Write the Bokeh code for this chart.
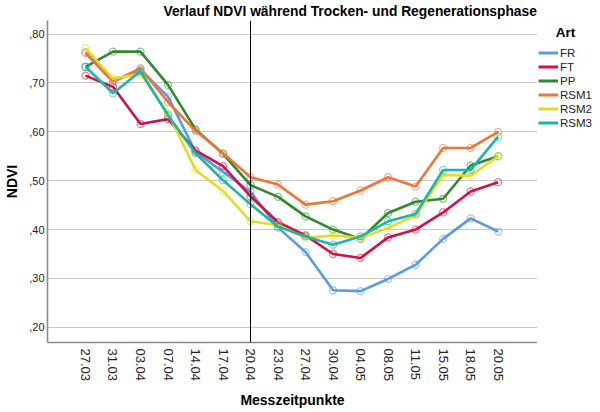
import math
from bokeh.plotting import figure
from bokeh.layouts import row
from bokeh.models import Range1d, FixedTicker, Span, Legend, LegendItem, Label
from bokeh.embed import file_html
from bokeh.resources import INLINE

# ---- data ----
dates = ["27.03", "31.03", "03.04", "07.04", "14.04", "17.04", "20.04", "23.04",
         "27.04", "30.04", "04.05", "08.05", "11.05", "15.05", "18.05", "20.05"]
FR = [0.763, 0.703, 0.727, 0.672, 0.559, 0.518, 0.477, 0.404, 0.354, 0.276, 0.274, 0.299, 0.328, 0.381, 0.423, 0.396]
FT = [0.715, 0.692, 0.616, 0.626, 0.562, 0.530, 0.468, 0.415, 0.388, 0.350, 0.342, 0.384, 0.400, 0.435, 0.478, 0.497]
PP = [0.733, 0.764, 0.764, 0.696, 0.605, 0.555, 0.491, 0.467, 0.427, 0.400, 0.381, 0.434, 0.457, 0.463, 0.531, 0.550]
RSM1 = [0.761, 0.702, 0.730, 0.661, 0.602, 0.556, 0.507, 0.492, 0.451, 0.458, 0.480, 0.507, 0.488, 0.567, 0.567, 0.600]
RSM2 = [0.771, 0.709, 0.718, 0.638, 0.522, 0.479, 0.417, 0.409, 0.383, 0.388, 0.383, 0.403, 0.429, 0.512, 0.510, 0.550]
RSM3 = [0.733, 0.679, 0.724, 0.634, 0.556, 0.501, 0.452, 0.406, 0.386, 0.369, 0.386, 0.417, 0.432, 0.522, 0.522, 0.590]

series_names = ["FR", "FT", "PP", "RSM1", "RSM2", "RSM3"]
series_values = [FR, FT, PP, RSM1, RSM2, RSM3]
colors = ["#5b9be0", "#cf1148", "#2f8a2f", "#ef7437", "#e3dc22", "#1db5a8"]

y_ticks = [0.2, 0.3, 0.4, 0.5, 0.6, 0.7, 0.8]
y_tick_labels = [",20", ",30", ",40", ",50", ",60", ",70", ",80"]
split_date = "20.04"

title_text = "Verlauf NDVI während Trocken- und Regenerationsphase"
x_label = "Messzeitpunkte"
y_label = "NDVI"
legend_title = "Art"

FONT = "Liberation Sans"
xs = list(range(len(dates)))

# ---- main plot ----
p = figure(width=537, height=412, output_backend="svg", toolbar_location=None,
           x_range=Range1d(-1.38, 16.43), y_range=Range1d(0.169, 0.8277),
           min_border_left=47, min_border_right=0, min_border_top=18,
           min_border_bottom=70)
p.outline_line_color = None
p.background_fill_color = "white"
p.border_fill_color = "white"

p.title.text = title_text
p.title.text_font = FONT
p.title.text_font_size = "13.8px"
p.title.text_font_style = "bold"
p.title.text_color = "black"
p.title.align = "left"
p.title.offset = 116
p.title.standoff = 3

p.xaxis.ticker = FixedTicker(ticks=xs)
p.xaxis.major_label_overrides = {i: d for i, d in enumerate(dates)}
p.xaxis.major_label_orientation = -math.pi / 2
p.yaxis.ticker = FixedTicker(ticks=y_ticks)
p.yaxis.major_label_overrides = {t: l for t, l in zip(y_ticks, y_tick_labels)}
for ax in (p.xaxis, p.yaxis):
    ax.axis_line_color = "#8a8a8a"
    ax.axis_line_width = 1.6
    ax.major_tick_line_color = None
    ax.minor_tick_line_color = None
    ax.major_tick_out = 0
    ax.major_tick_in = 0
    ax.minor_tick_out = 0
    ax.major_label_text_font = FONT
    ax.axis_label_text_font = FONT
    ax.axis_label_text_font_style = "bold"
    ax.axis_label_text_color = "black"
    ax.major_label_text_color = "#222222"
p.xaxis.major_label_text_font_size = "13px"
p.yaxis.major_label_text_font_size = "11px"
p.xaxis.major_label_standoff = 6
p.yaxis.major_label_standoff = 3
p.xaxis.axis_label = x_label
p.yaxis.axis_label = y_label
p.xaxis.axis_label_text_font_size = "14px"
p.yaxis.axis_label_text_font_size = "14px"
p.xaxis.axis_label_standoff = 8
p.yaxis.axis_label_standoff = 6

p.xgrid.grid_line_color = None
p.ygrid.ticker = FixedTicker(ticks=y_ticks)
p.ygrid.grid_line_color = "#c8c8c8"
p.ygrid.grid_line_width = 1.2

p.add_layout(Span(location=dates.index(split_date), dimension="height",
                  line_color="black", line_width=1))

for name, vals, c in zip(series_names, series_values, colors):
    p.line(xs, vals, line_color=c, line_width=2.6)
    p.scatter(xs, vals, size=7, marker="circle", fill_color=None,
              line_color=c, line_alpha=0.55, line_width=1.3)

# ---- legend panel (its frame lines up with the main frame) ----
# the x range lies away from the series, so their copies here stay out of view
pl = figure(width=63, height=412, output_backend="svg", toolbar_location=None,
            x_range=Range1d(100, 163), y_range=Range1d(0, 322),
            min_border=0, outline_line_color=None)
pl.axis.visible = False
pl.grid.visible = False
pl.background_fill_color = "white"
pl.border_fill_color = "white"
items = []
for name, vals, c in zip(series_names, series_values, colors):
    r = pl.line(xs, vals, line_color=c, line_width=3)
    items.append(LegendItem(label=name, renderers=[r]))
legend = Legend(items=items, location=(1, 213), orientation="vertical",
                glyph_width=20, glyph_height=13, label_height=13, spacing=1,
                label_standoff=2, padding=0, margin=0,
                border_line_color=None, background_fill_alpha=0,
                label_text_font=FONT, label_text_font_size="11.5px",
                label_text_color="#222222")
pl.add_layout(legend, "center")
pl.add_layout(Label(x=128, y=310.5, text=legend_title, text_align="center",
                    text_baseline="middle", text_font=FONT,
                    text_font_size="13.5px", text_font_style="bold",
                    text_color="black"))

layout = row(p, pl, spacing=0)
open("out.html", "w").write(file_html(layout, INLINE))
